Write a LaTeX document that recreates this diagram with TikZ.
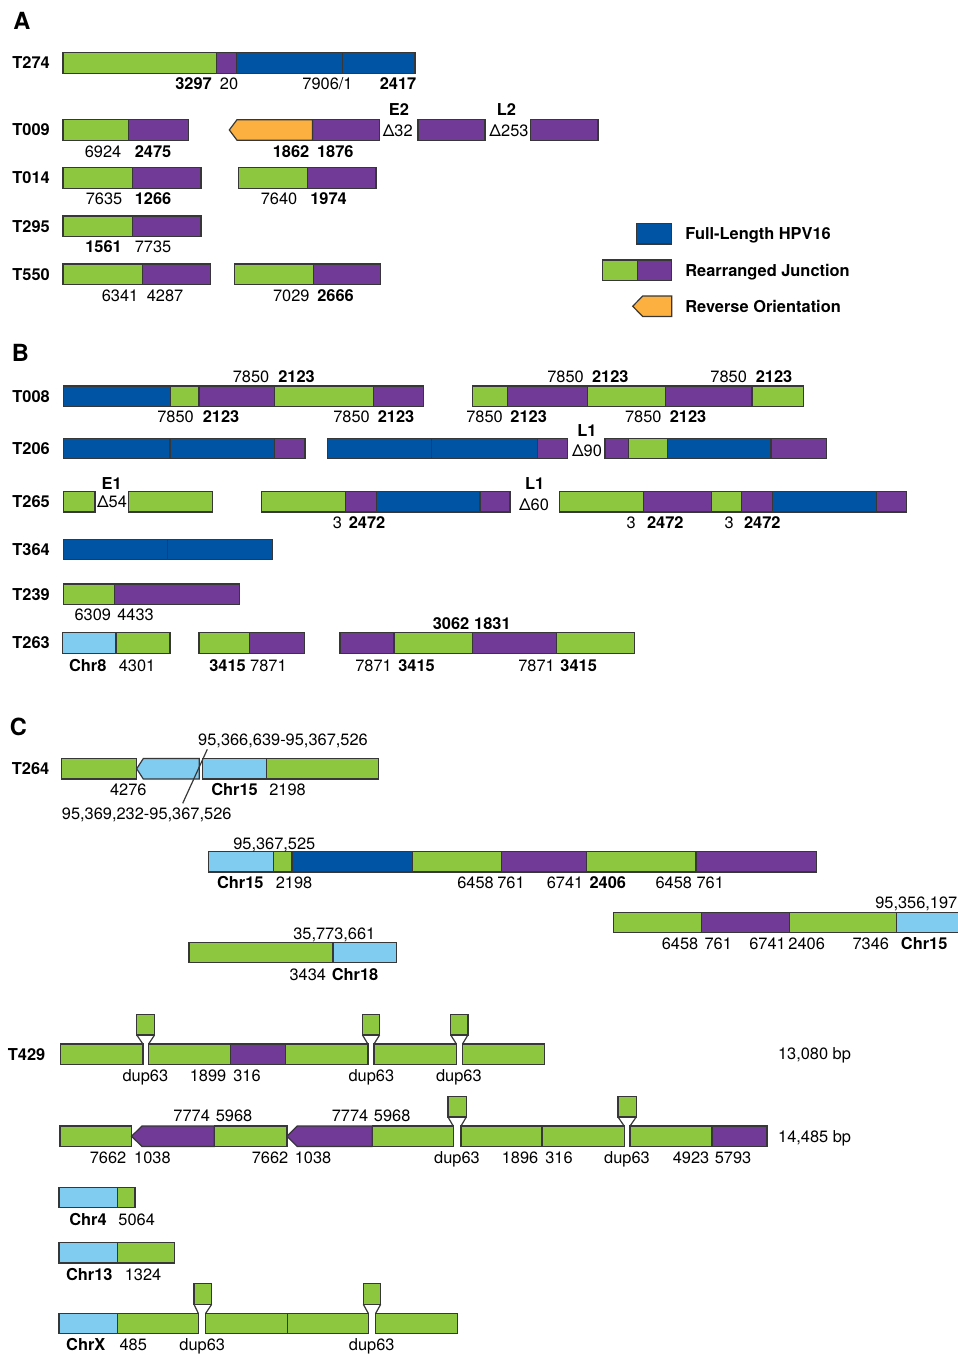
\documentclass[tikz,border=0pt]{standalone}
\usepackage{fontspec}
\setmainfont{TeX Gyre Heros}

\definecolor{hpvgreen}{RGB}{141,198,63}
\definecolor{hpvpurple}{RGB}{112,58,150}
\definecolor{hpvblue}{RGB}{0,84,164}
\definecolor{chrblue}{RGB}{128,204,240}
\definecolor{revorange}{RGB}{251,176,64}
\definecolor{segedge}{RGB}{55,55,55}

% one row of boxes: top y, list of left/right/style
\newcommand{\segrow}[2]{\foreach \xa/\xb/\sty in {#2} {\filldraw[\sty] (\xa,#1) rectangle (\xb,#1+20.5);}}
% reverse orientation box: style, tip x, body x, end x, top y
\newcommand{\revseg}[5]{\filldraw[#1] (#2,#5+10.25) -- (#3,#5) -- (#4,#5) -- (#4,#5+20.5) -- (#3,#5+20.5) -- cycle;}
% duplicated piece above a gap: box left/right, gap left/right, top y of the row
\newcommand{\dupbox}[5]{\filldraw[grn] (#1,#5-29.5) rectangle (#2,#5-9);
  \draw[seg] (#1,#5-9) -- (#3,#5) (#2,#5-9) -- (#4,#5);}
% labels of one line: name, y, list of x/style/text
\newcommand{\labrow}[3]{\foreach \px/\st/\tx [count=\idx] in {#3} {\node[\st] (#1-\idx) at (\px,#2) {\tx};}}

\begin{document}
\begin{tikzpicture}[x=0.5pt, y=-0.5pt,
    seg/.style={draw=segedge, line width=0.6pt},
    grn/.style={seg, fill=hpvgreen},
    pur/.style={seg, fill=hpvpurple},
    blu/.style={seg, fill=hpvblue},
    lbl/.style={seg, fill=chrblue},
    org/.style={seg, fill=revorange},
    lab/.style={inner sep=0pt, text height=5.9pt, text depth=0pt, font=\fontsize{8.2}{9}\selectfont},
    blab/.style={lab, font=\fontsize{8.2}{9}\selectfont\bfseries},
    rowname/.style={blab, anchor=west},
    panel/.style={inner sep=0pt, text height=8.5pt, text depth=0pt, font=\fontsize{11.8}{13}\selectfont\bfseries}]
    \useasboundingbox (0,0) rectangle (958,1355);

    % Panel A
    \node[panel] (pa) at (21.8,21.3) {A};
    \node[rowname] (n274) at (12,63) {T274};
    \node[rowname] (n009) at (12,130) {T009};
    \node[rowname] (n014) at (12,178) {T014};
    \node[rowname] (n295) at (12,226.3) {T295};
    \node[rowname] (n550) at (12,274.3) {T550};

    \segrow{52.7}{63/216.3/grn, 216.3/236.5/pur, 236.5/342.5/blu, 342.5/415/blu}
    \segrow{119.7}{63/128.5/grn, 128.5/188.6/pur, 312.4/379.6/pur, 418/485/pur, 530.6/598/pur}
    \revseg{org}{229.3}{237}{312.4}{119.7}
    \segrow{167.7}{63/132.5/grn, 132.5/200.9/pur, 238.8/307.6/grn, 307.6/376/pur}
    \segrow{216}{63/132.5/grn, 132.5/200.9/pur}
    \segrow{264}{63/142.3/grn, 142.3/210.8/pur, 234.5/313.2/grn, 313.2/380.8/pur}

    \labrow{t274}{84}{193.5/blab/3297, 229/lab/20, 398/blab/2417}
    \node[lab] (t274-s) at (327.5,84) {7906/1};
    \labrow{t009}{152}{103/lab/6924, 153/blab/2475, 291/blab/1862, 335.3/blab/1876}
    \labrow{t009g}{110}{399/blab/E2, 506.5/blab/L2}
    \labrow{t009d}{131}{397.7/lab/Δ32, 509/lab/Δ253}
    \labrow{t014}{199}{104/lab/7635, 153/blab/1266, 279/lab/7640, 328.5/blab/1974}
    \labrow{t295}{247}{103.5/blab/1561, 153/lab/7735}
    \labrow{t550}{296}{120/lab/6341, 165/lab/4287, 291.3/lab/7029, 335.5/blab/2666}

    % Legend
    \segrow{223.5}{636.7/671.7/blu}
    \segrow{260}{602.7/637.7/grn, 637.7/671.7/pur}
    \revseg{org}{632.7}{642.7}{671.7}{296}
    \node[rowname] (leg1) at (685,234) {Full-Length HPV16};
    \node[rowname] (leg2) at (685,270.3) {Rearranged Junction};
    \node[rowname] (leg3) at (685,306.3) {Reverse Orientation};

    % Panel B
    \node[panel] (pb) at (20.5,353) {B};
    \node[rowname] (n008) at (12,396.3) {T008};
    \node[rowname] (n206) at (12,448.5) {T206};
    \node[rowname] (n265) at (12,501.7) {T265};
    \node[rowname] (n364) at (12,549.5) {T364};
    \node[rowname] (n239) at (12,594.3) {T239};
    \node[rowname] (n263) at (12,643) {T263};

    \segrow{386}{63.3/170.7/blu, 170.7/199/grn, 199/274.7/pur, 274.7/373.3/grn, 373.3/423.3/pur,
      472.7/507.3/grn, 507.3/587.7/pur, 587.7/665.3/grn, 665.3/752/pur, 752/803.3/grn}
    \segrow{438.3}{63.3/170/blu, 170/274.7/blu, 274.7/305/pur, 327.3/431.7/blu, 431.7/537.7/blu,
      537.7/567.3/pur, 605/628.7/pur, 628.7/667.3/grn, 667.3/771/blu, 771/826.7/pur}
    \segrow{491.5}{63.3/95/grn, 128.3/212.7/grn, 261.7/345.3/grn, 345.3/376.3/pur, 376.3/480/blu,
      480/510/pur, 559.3/643.7/grn, 643.7/711.7/pur, 711.7/741.7/grn, 741.7/772.3/pur,
      772.3/876.7/blu, 876.7/906.7/pur}
    \segrow{539.3}{63.3/167.3/blu, 167.3/272.3/blu}
    \segrow{584}{63.4/114.8/grn, 114.8/239.2/pur}
    \segrow{632.7}{62.2/116/lbl, 116/170/grn, 199/249.6/grn, 249.6/304.7/pur, 340/393.9/pur,
      393.9/472.6/grn, 472.6/556.4/pur, 556.4/634.3/grn}

    \labrow{t008a}{376.5}{251/lab/7850, 296.5/blab/2123, 565.5/lab/7850, 610.3/blab/2123, 728.7/lab/7850, 774/blab/2123}
    \labrow{t008b}{417}{175.5/lab/7850, 221/blab/2123, 351.5/lab/7850, 396/blab/2123,
      484.5/lab/7850, 528.7/blab/2123, 643.3/lab/7850, 688/blab/2123}
    \node[blab] (t206g) at (587,431) {L1};
    \node[lab] (t206d) at (587,450.3) {Δ90};
    \labrow{t265g}{483.3}{111.7/blab/E1, 534.7/blab/L1}
    \node[lab] (t265d1) at (112,501.7) {Δ54};
    \node[lab] (t265d2) at (534,505) {Δ60};
    \labrow{t265}{522.7}{337.5/lab/3, 367/blab/2472, 631.2/lab/3, 665.3/blab/2472, 729.2/lab/3, 762.3/blab/2472}
    \labrow{t239}{615}{92.8/lab/6309, 135.5/lab/4433}
    \labrow{t263}{665.7}{87.7/blab/Chr8, 137/lab/4301, 227.6/blab/3415, 268.4/lab/7871,
      373.5/lab/7871, 416.6/blab/3415, 536.5/lab/7871, 578.7/blab/3415}
    \labrow{t263a}{624}{451/blab/3062, 492.4/blab/1831}

    % Panel C
    \node[panel] (pc) at (18.3,726.7) {C};
    \node[rowname] (n264) at (11.5,768.7) {T264};
    \node[rowname] (n429) at (7.5,1054.3) {T429};

    \segrow{758.5}{61.7/136.7/grn, 202.3/266.7/lbl, 266.7/378.3/grn}
    \revseg{lbl}{136.7}{143.3}{199.3}{758.5}
    \segrow{851.5}{208.4/273.7/lbl, 273.7/292/grn, 292/412.4/blu, 412.4/501.4/grn, 501.4/586.7/pur,
      586.7/696/grn, 696/816.5/pur}
    \segrow{912.3}{613.3/701.7/grn, 701.7/789.3/pur, 789.3/896.7/grn, 896.7/962/lbl}
    \segrow{942.3}{189/332.9/grn, 332.9/396.5/lbl}

    \node[lab] (c264a) at (283,740) {95,366,639-95,367,526};
    \node[lab] (c264b) at (146.7,813.3) {95,369,232-95,367,526};
    \coordinate (brkA) at (207.3,749.3);
    \coordinate (brkB) at (182.7,803.3);
    \draw[seg] (brkA) -- (brkB);
    \labrow{t264}{789.3}{128.3/lab/4276, 234.5/blab/Chr15, 287.5/lab/2198}
    \node[lab] (c2a) at (274.3,843.3) {95,367,525};
    \labrow{c2}{882.3}{240.3/blab/Chr15, 294/lab/2198, 475.5/lab/6458, 511/lab/761,
      565/lab/6741, 607.8/blab/2406, 673.8/lab/6458, 710.2/lab/761}
    \node[lab] (c3a) at (916.3,902.7) {95,356,197};
    \labrow{c3}{944}{680/lab/6458, 718.3/lab/761, 767.5/lab/6741, 806.7/lab/2406, 870.8/lab/7346, 924.2/blab/Chr15}
    \node[lab] (c4a) at (334.3,933.3) {35,773,661};
    \labrow{c4}{975}{307.8/lab/3434, 355/blab/Chr18}

    % T429 and its pieces
    \segrow{1044}{60.7/142.9/grn, 148.6/230.4/grn, 230.4/285.7/pur, 285.7/367.9/grn,
      374/456.4/grn, 462.5/544.6/grn}
    \dupbox{136.8}{154.6}{142.9}{148.6}{1044}
    \dupbox{362.5}{379.6}{367.9}{374}{1044}
    \dupbox{450.7}{467.9}{456.4}{462.5}{1044}
    \labrow{t429}{1076}{145.4/lab/dup63, 208/lab/1899, 247/lab/316, 371.4/lab/dup63, 458.9/lab/dup63}
    \node[lab] (bp1) at (814.5,1053.5) {13,080 bp};

    \segrow{1126}{59.9/131.5/grn, 214.2/286.9/grn, 372.1/453.2/grn, 461/542/grn, 542/624.2/grn,
      630/712/grn, 712/767/pur}
    \revseg{pur}{131.5}{142}{214.2}{1126}
    \revseg{pur}{286.9}{297.3}{372.1}{1126}
    \dupbox{448}{466.3}{453.2}{461}{1126}
    \dupbox{618}{636.2}{624.2}{630}{1126}
    \labrow{t429a}{1116}{191.7/lab/7774, 234/lab/5968, 350/lab/7774, 392.2/lab/5968}
    \labrow{t429b}{1157.5}{108/lab/7662, 152.4/lab/1038, 270/lab/7662, 313/lab/1038, 457/lab/dup63,
      520/lab/1896, 559/lab/316, 627/lab/dup63, 691/lab/4923, 733/lab/5793}
    \node[lab] (bp2) at (814.6,1136.5) {14,485 bp};

    \segrow{1187.3}{59/117.3/lbl, 117.3/135/grn}
    \segrow{1242.5}{59/117.3/lbl, 117.3/174.3/grn}
    \segrow{1313.3}{59/117.3/lbl, 117.3/198.3/grn, 205.7/287.3/grn, 287.3/368.3/grn, 375.7/457.3/grn}
    \dupbox{194}{211.7}{198.3}{205.7}{1313.3}
    \dupbox{363.3}{380.7}{368.3}{375.7}{1313.3}
    \labrow{chr4}{1219.3}{88/blab/Chr4, 136.7/lab/5064}
    \labrow{chr13}{1275}{89.3/blab/Chr13, 143/lab/1324}
    \labrow{chrx}{1345}{85.8/blab/ChrX, 133.3/lab/485, 202.2/lab/dup63, 371.7/lab/dup63}

\end{tikzpicture}
\end{document}
